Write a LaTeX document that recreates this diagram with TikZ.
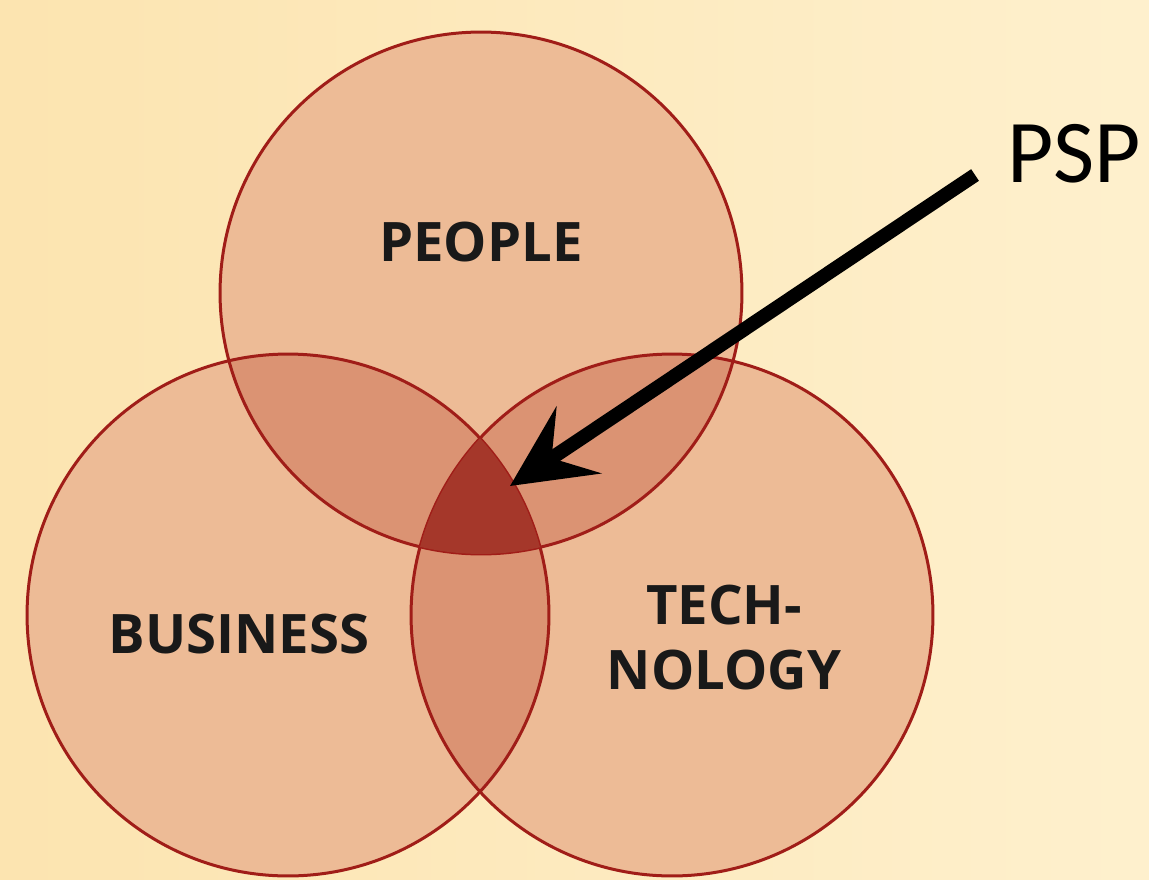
\documentclass[tikz,border=0pt]{standalone}
\usepackage{fontspec}
\setmainfont{Carlito}
\newfontfamily\labfont{Open Sans}
\usetikzlibrary{arrows.meta}
\definecolor{bgL}{HTML}{FCE4B0}
\definecolor{bgR}{HTML}{FEF0CD}
\definecolor{cfill}{HTML}{EDBB96}
\definecolor{pfill}{HTML}{DB9373}
\definecolor{tfill}{HTML}{A5372A}
\definecolor{cline}{HTML}{A01D18}
\tikzset{
  outline/.style={draw=cline, line width=0.06cm},
  label/.style={font=\labfont\bfseries\fontsize{31}{37}\selectfont, text=black!90, align=center, inner sep=0pt},
  psparrow/.style={line width=0.28cm, black, -{Stealth[length=1.65cm, width=1.6cm, inset=0.65cm]}},
}
\begin{document}
\begin{tikzpicture}[x=0.02cm, y=-0.02cm]
\useasboundingbox (0,0) rectangle (1149,879);
\shade[left color=bgL, right color=bgR] (0,0) rectangle (1149,879);
\def\R{5.22cm}
\coordinate (P) at (481,293);
\coordinate (B) at (288,615);
\coordinate (T) at (672,615);
% base fills
\fill[cfill] (P) circle[radius=\R];
\fill[cfill] (B) circle[radius=\R];
\fill[cfill] (T) circle[radius=\R];
% pair overlaps
\begin{scope}
  \clip (P) circle[radius=\R];
  \fill[pfill] (B) circle[radius=\R];
  \fill[pfill] (T) circle[radius=\R];
\end{scope}
\begin{scope}
  \clip (B) circle[radius=\R];
  \fill[pfill] (T) circle[radius=\R];
\end{scope}
% outlines
\draw[outline] (P) circle[radius=\R];
\draw[outline] (B) circle[radius=\R];
\draw[outline] (T) circle[radius=\R];
% triple overlap
\begin{scope}
  \clip (P) circle[radius=\R];
  \clip (B) circle[radius=\R];
  \fill[tfill] (T) circle[radius=\R];
\end{scope}
% labels
\node[label] (people) at (481,242) {PEOPLE};
\node[label] (business) at (239,634) {BUSINESS};
\node[label] (technology) at (724,638) {TECH-\\NOLOGY};
\node[font=\fontsize{51}{52}\selectfont, inner sep=0pt] (psp) at (1074,154) {PSP};
% arrow
\coordinate (arrowstart) at (975,175);
\coordinate (center) at (510,486);
\draw[psparrow] (arrowstart) -- (center);
\end{tikzpicture}
\end{document}
